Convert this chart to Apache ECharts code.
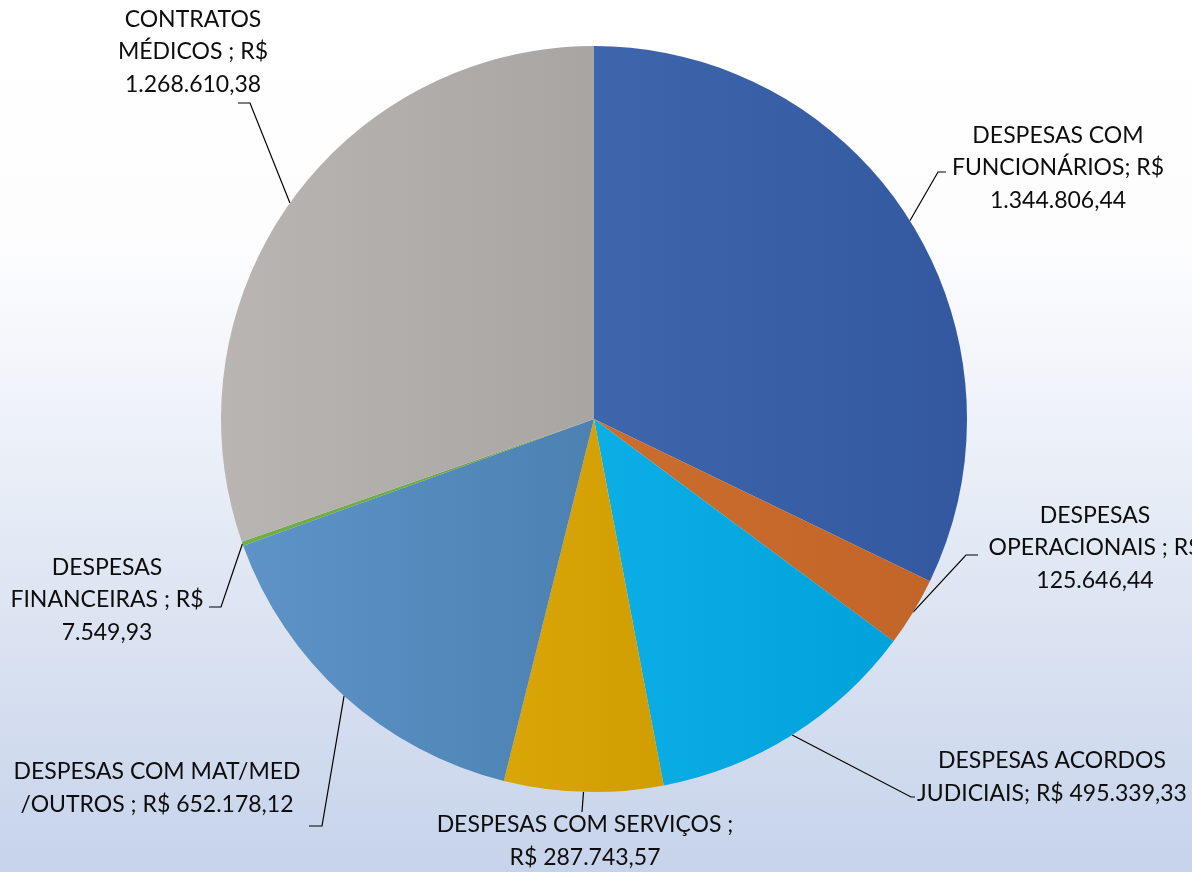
<!DOCTYPE html>
<html>
<head>
<meta charset="utf-8">
<script src="https://cdn.jsdelivr.net/npm/echarts@6/dist/echarts.min.js"></script>
<style>
html, body { margin: 0; padding: 0; }
#despesasPie { width: 1192px; height: 872px; }
</style>
</head>
<body>
<div id="despesasPie"></div>
<script>
// dados do gráfico
const categories = [
  'DESPESAS COM FUNCIONÁRIOS',
  'DESPESAS OPERACIONAIS',
  'DESPESAS ACORDOS JUDICIAIS',
  'DESPESAS COM SERVIÇOS',
  'DESPESAS COM MAT/MED /OUTROS',
  'DESPESAS FINANCEIRAS',
  'CONTRATOS MÉDICOS',
]
const values = [1344806.44, 125646.44, 495339.33, 287743.57, 652178.12, 7549.93, 1268610.38]

// texto dos rótulos, com as quebras de linha do original
const labelHeads = [
  'DESPESAS COM\nFUNCIONÁRIOS; R$\n',
  'DESPESAS\nOPERACIONAIS ; R$\n',
  'DESPESAS ACORDOS\nJUDICIAIS; R$ ',
  'DESPESAS COM SERVIÇOS ;\nR$ ',
  'DESPESAS COM MAT/MED\n/OUTROS ; R$ ',
  'DESPESAS\nFINANCEIRAS ; R$\n',
  'CONTRATOS\nMÉDICOS ; R$\n',
]

// cores (claro -> escuro)
const sliceColors = [
  ['#3e66ac', '#3358a0'],
  ['#ca6d2d', '#c26528'],
  ['#0caee6', '#00a2db'],
  ['#d9a507', '#d19e02'],
  ['#5d93c7', '#4c81b2'],
  ['#72ae48', '#68a441'],
  ['#b9b5b3', '#a9a5a3'],
]

// posição dos rótulos: centro do texto, ponta da linha (relativa) e cotovelo
const labelPlace = [
  { x: 1058, y: 168, ex: -112, ey: 4, kx: -8 },
  { x: 1095, y: 548, ex: -117, ey: 7, kx: -12 },
  { x: 1052, y: 777, ex: -137, ey: 20, kx: -4 },
  { x: 585, y: 841, ex: -3, ey: -29, kx: 0 },
  { x: 157, y: 788, ex: 152, ey: 38, kx: 13 },
  { x: 107, y: 600, ex: 102, ey: 7, kx: 12 },
  { x: 193, y: 52, ex: 45, ey: 51, kx: 12 },
]

const formatBRL = (v) => {
  const [int, dec] = v.toFixed(2).split('.')
  return int.replace(/\B(?=(\d{3})+(?!\d))/g, '.') + ',' + dec
}

const pieData = categories.map((name, i) => ({
  name,
  value: values[i],
  itemStyle: {
    color: {
      type: 'linear',
      x: 0,
      y: 0,
      x2: 1,
      y2: 0,
      colorStops: [
        { offset: 0, color: sliceColors[i][0] },
        { offset: 1, color: sliceColors[i][1] },
      ],
    },
  },
}))

const chart = echarts.init(document.getElementById('despesasPie'))

const option = {
  animation: false,
  backgroundColor: {
    type: 'linear',
    x: 0,
    y: 0,
    x2: 0,
    y2: 1,
    colorStops: [
      { offset: 0, color: '#ffffff' },
      { offset: 0.28, color: '#fdfdfe' },
      { offset: 1, color: '#c6d3ea' },
    ],
  },
  series: [
    {
      type: 'pie',
      center: [594, 419],
      radius: 373,
      startAngle: 90,
      clockwise: true,
      avoidLabelOverlap: false,
      data: pieData,
      itemStyle: {
        borderWidth: 0,
      },
      emphasis: { disabled: true },
      label: {
        show: true,
        position: 'outside',
        color: '#0d0d0d',
        fontFamily: 'Lato',
        fontSize: 23,
        lineHeight: 32.5,
        align: 'center',
        formatter: (p) => labelHeads[p.dataIndex] + formatBRL(p.value),
      },
      labelLine: {
        show: true,
        length: 10,
        length2: 10,
        lineStyle: {
          color: '#000',
          width: 1.2,
        },
      },
      labelLayout: (params) => {
        const p = labelPlace[params.dataIndex]
        const anchor = params.labelLinePoints[0]
        const endX = p.x + p.ex
        const endY = p.y + p.ey
        return {
          x: p.x,
          y: p.y,
          align: 'center',
          verticalAlign: 'middle',
          labelLinePoints: [anchor, [endX + p.kx, endY], [endX, endY]],
        }
      },
    },
  ],
}

chart.setOption(option)
</script>
</body>
</html>
